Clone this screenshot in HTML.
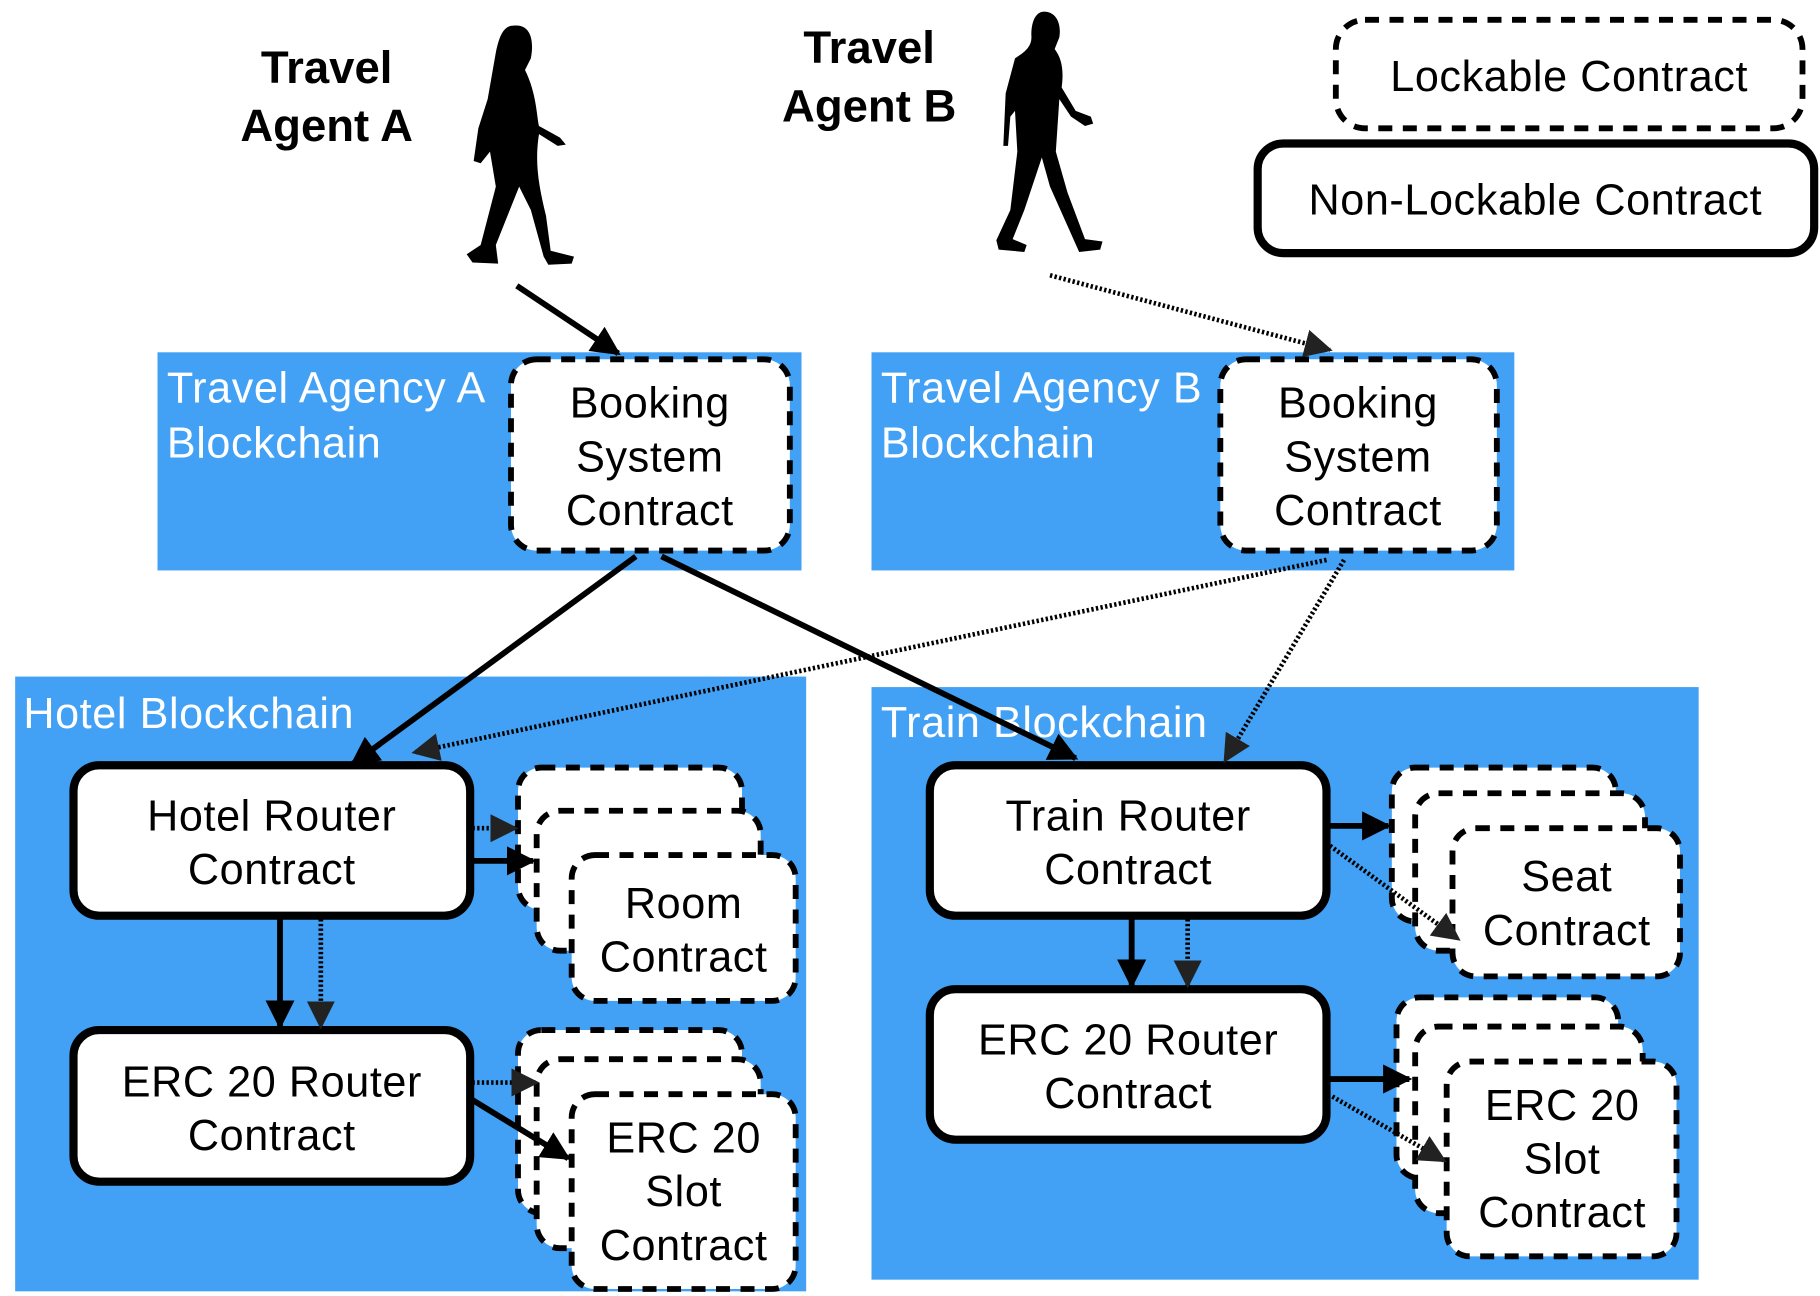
<!DOCTYPE html>
<html><head><meta charset="utf-8"><style>
html,body{margin:0;padding:0;background:#fff}
svg{display:block}
text{font-family:"Liberation Sans",Arial,sans-serif}
.b{fill:#fff;stroke:#000;stroke-width:7}
.d{fill:#fff;stroke:#000;stroke-width:5;stroke-dasharray:12 9}
.t{font-size:37px;fill:#000;text-anchor:middle;letter-spacing:0.5px}
.w{font-size:37px;fill:#fff;letter-spacing:0.5px}
.s{stroke:#000;stroke-width:5;fill:none}
.p{stroke:#000;stroke-width:4;fill:none;stroke-dasharray:2 2}
</style></head><body>
<svg width="1820" height="1296" viewBox="0 0 1560 1111" preserveAspectRatio="none" xmlns="http://www.w3.org/2000/svg">
<defs>
<marker id="a" viewBox="0 0 10 10" refX="9" refY="5" markerWidth="5" markerHeight="5" orient="auto" markerUnits="strokeWidth"><path d="M0,0 L10,5 L0,10 z" fill="#000"/></marker>
<marker id="a2" viewBox="0 0 10 10" refX="9" refY="5" markerWidth="6" markerHeight="6" orient="auto" markerUnits="strokeWidth"><path d="M0,0 L10,5 L0,10 z" fill="#222"/></marker>
</defs>
<rect x="135" y="302" width="552" height="187" fill="#42a1f5"/>
<rect x="747" y="302" width="551" height="187" fill="#42a1f5"/>
<rect x="13" y="580" width="678" height="527" fill="#42a1f5"/>
<rect x="747" y="589" width="709" height="508" fill="#42a1f5"/>
<text class="w" x="143" y="345">Travel Agency A</text>
<text class="w" x="143" y="392">Blockchain</text>
<text class="w" x="755" y="345">Travel Agency B</text>
<text class="w" x="755" y="392">Blockchain</text>
<text class="w" x="20" y="624">Hotel Blockchain</text>
<text class="w" x="755" y="632">Train Blockchain</text>
<text x="280" y="71" font-size="39" font-weight="bold" text-anchor="middle">Travel</text>
<text x="280" y="121" font-size="39" font-weight="bold" text-anchor="middle">Agent A</text>
<text x="745" y="54" font-size="39" font-weight="bold" text-anchor="middle">Travel</text>
<text x="745" y="104" font-size="39" font-weight="bold" text-anchor="middle">Agent B</text>
<path d="M440,22 C455,20 458,35 455,50 L450,60 C460,80 460,100 462,108 L480,118 L485,124 L478,125 L462,115 C458,140 462,160 468,185 L472,215 L492,220 L490,226 L470,227 L466,220 L455,180 L445,160 L425,210 L427,226 L405,225 L400,218 L412,210 L425,160 L420,130 L412,140 L406,138 L410,110 L418,85 L425,45 C428,30 432,22 440,22 z" fill="#000"/>
<path d="M895,10 C905,10 910,20 908,32 L904,42 C910,50 912,60 910,75 L922,95 L935,100 L937,106 L930,108 L918,100 L908,85 L905,130 L915,165 L930,205 L945,207 L943,214 L925,216 L900,160 L893,135 L878,180 L868,205 L880,210 L878,216 L856,214 L854,206 L866,180 L872,130 L870,95 L866,100 L864,125 L860,125 L862,80 L870,50 C878,45 885,40 884,30 C884,18 888,10 895,10 z" fill="#000"/>
<rect class="d" x="1145" y="17" width="400" height="93" rx="25"/>
<text class="t" x="1345" y="78">Lockable Contract</text>
<rect class="b" x="1078" y="123" width="477" height="94" rx="22"/>
<text class="t" x="1316" y="184">Non-Lockable Contract</text>
<rect class="d" x="438" y="308" width="239" height="164" rx="22"/>
<text class="t" x="557" y="358">Booking</text><text class="t" x="557" y="404">System</text><text class="t" x="557" y="450">Contract</text>
<rect class="d" x="1046" y="308" width="237" height="164" rx="22"/>
<text class="t" x="1164" y="358">Booking</text><text class="t" x="1164" y="404">System</text><text class="t" x="1164" y="450">Contract</text>
<rect class="b" x="63" y="656" width="340" height="129" rx="22"/>
<text class="t" x="233" y="712">Hotel Router</text><text class="t" x="233" y="758">Contract</text>
<rect class="b" x="63" y="883" width="340" height="130" rx="22"/>
<text class="t" x="233" y="940">ERC 20 Router</text><text class="t" x="233" y="986">Contract</text>
<rect class="b" x="797" y="656" width="340" height="129" rx="22"/>
<text class="t" x="967" y="712">Train Router</text><text class="t" x="967" y="758">Contract</text>
<rect class="b" x="797" y="848" width="340" height="129" rx="22"/>
<text class="t" x="967" y="904">ERC 20 Router</text><text class="t" x="967" y="950">Contract</text>
<rect class="d" x="444" y="658" width="192" height="122" rx="20"/>
<rect class="d" x="460" y="695" width="192" height="120" rx="20"/>
<rect class="d" x="490" y="733" width="192" height="125" rx="20"/>
<text class="t" x="586" y="787">Room</text><text class="t" x="586" y="833">Contract</text>
<rect class="d" x="444" y="883" width="192" height="157" rx="20"/>
<rect class="d" x="460" y="908" width="192" height="162" rx="20"/>
<rect class="d" x="490" y="938" width="192" height="167" rx="20"/>
<text class="t" x="586" y="988">ERC 20</text><text class="t" x="586" y="1034">Slot</text><text class="t" x="586" y="1080">Contract</text>
<rect class="d" x="1193" y="658" width="192" height="132" rx="20"/>
<rect class="d" x="1213" y="680" width="197" height="135" rx="20"/>
<rect class="d" x="1245" y="710" width="195" height="127" rx="20"/>
<text class="t" x="1343" y="764">Seat</text><text class="t" x="1343" y="810">Contract</text>
<rect class="d" x="1197" y="855" width="190" height="155" rx="20"/>
<rect class="d" x="1213" y="880" width="195" height="160" rx="20"/>
<rect class="d" x="1240" y="910" width="197" height="167" rx="20"/>
<text class="t" x="1339" y="960">ERC 20</text><text class="t" x="1339" y="1006">Slot</text><text class="t" x="1339" y="1052">Contract</text>
<line class="s" x1="443" y1="245" x2="530" y2="303" marker-end="url(#a)"/>
<line class="p" x1="900" y1="236" x2="1140" y2="300" marker-end="url(#a2)"/>
<line class="s" x1="545" y1="477" x2="302" y2="655" marker-end="url(#a)"/>
<line class="s" x1="567" y1="477" x2="922" y2="650" marker-end="url(#a)"/>
<line class="p" x1="1137" y1="480" x2="355" y2="645" marker-end="url(#a2)"/>
<line class="p" x1="1152" y1="480" x2="1050" y2="652" marker-end="url(#a2)"/>
<line class="s" x1="403" y1="738" x2="457" y2="738" marker-end="url(#a)"/>
<line class="p" x1="405" y1="710" x2="442" y2="710" marker-end="url(#a2)"/>
<line class="s" x1="240" y1="788" x2="240" y2="880" marker-end="url(#a)"/>
<line class="p" x1="275" y1="788" x2="275" y2="880" marker-end="url(#a2)"/>
<line class="p" x1="405" y1="928" x2="460" y2="928" marker-end="url(#a2)"/>
<line class="s" x1="405" y1="943" x2="487" y2="993" marker-end="url(#a)"/>
<line class="s" x1="1137" y1="708" x2="1190" y2="708" marker-end="url(#a)"/>
<line class="p" x1="1140" y1="725" x2="1250" y2="805" marker-end="url(#a2)"/>
<line class="s" x1="970" y1="788" x2="970" y2="845" marker-end="url(#a)"/>
<line class="p" x1="1018" y1="788" x2="1018" y2="845" marker-end="url(#a2)"/>
<line class="s" x1="1140" y1="925" x2="1208" y2="925" marker-end="url(#a)"/>
<line class="p" x1="1142" y1="940" x2="1238" y2="995" marker-end="url(#a2)"/>
</svg>
</body></html>
